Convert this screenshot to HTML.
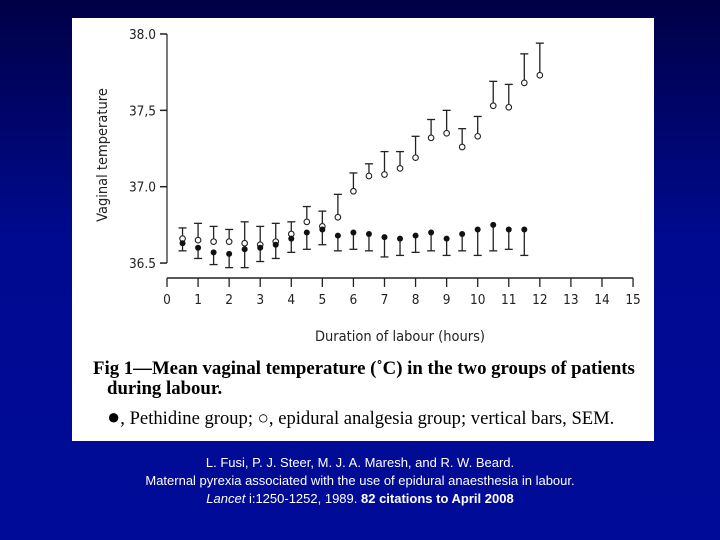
<!DOCTYPE html>
<html><head><meta charset="utf-8"><style>
body{margin:0;width:720px;height:540px;overflow:hidden;background:linear-gradient(#000046,#000a90 45%,#000b98);font-family:"Liberation Sans",sans-serif}
#panel{position:absolute;left:72px;top:18px;width:582px;height:423px;background:#fff}
#cap{position:absolute;left:0;top:358px;width:720px;color:#000;font-family:"Liberation Serif",serif}
#credit{position:absolute;left:0;top:454px;width:720px;text-align:center;color:#fff;font-size:13px;line-height:18px}
</style></head><body>
<div id="panel"></div>
<svg id="chart" width="720" height="540" style="position:absolute;left:0;top:0">
<g id="axes"></g><g id="marks"></g>
<text transform="translate(107,155) rotate(-90)" text-anchor="middle" font-size="14.5" font-family="DejaVu Sans Condensed, Liberation Sans, sans-serif" fill="#222">Vaginal temperature</text>
<text x="400" y="341" text-anchor="middle" font-size="14.5" font-family="DejaVu Sans Condensed, Liberation Sans, sans-serif" fill="#222">Duration of labour (hours)</text>
</svg>
<div id="cap">
<div style="position:absolute;left:93px;top:1px;font-weight:bold;font-size:18.8px;line-height:20px;width:600px;white-space:nowrap">Fig 1—Mean vaginal temperature (˚C) in the two groups of patients<br><span style="padding-left:14px">during labour.</span></div>
<div style="position:absolute;left:107px;top:50px;font-size:18.6px;white-space:nowrap"><span style="font-size:22px;line-height:10px">●</span>, Pethidine group; ○, epidural analgesia group; vertical bars, SEM.</div>
</div>
<div id="credit">L. Fusi, P. J. Steer, M. J. A. Maresh, and R. W. Beard.<br>Maternal pyrexia associated with the use of epidural anaesthesia in labour.<br><i>Lancet</i> i:1250-1252, 1989. <b>82 citations to April 2008</b></div>
<script>
const hours=[0.5,1,1.5,2,2.5,3,3.5,4,4.5,5,5.5,6,6.5,7,7.5,8,8.5,9,9.5,10,10.5,11,11.5,12];
const epiMean=[36.66,36.65,36.64,36.64,36.63,36.62,36.64,36.69,36.77,36.74,36.80,36.97,37.07,37.08,37.12,37.19,37.32,37.35,37.26,37.33,37.53,37.52,37.68,37.73];
const epiUpper=[36.73,36.76,36.74,36.72,36.77,36.74,36.76,36.77,36.87,36.84,36.95,37.09,37.15,37.23,37.23,37.33,37.44,37.50,37.38,37.46,37.69,37.67,37.87,37.94];
const pethMean=[36.63,36.60,36.57,36.56,36.59,36.60,36.62,36.66,36.70,36.72,36.68,36.70,36.69,36.67,36.66,36.68,36.70,36.66,36.69,36.72,36.75,36.72,36.72];
const pethLower=[36.58,36.53,36.49,36.47,36.47,36.51,36.53,36.57,36.59,36.62,36.58,36.59,36.58,36.54,36.55,36.57,36.58,36.55,36.58,36.55,36.58,36.59,36.55];
const yTicks=["38.0","37.5","37.0","36.5"];
const xTicks=[0,1,2,3,4,5,6,7,8,9,10,11,12,13,14,15];
const X=h=>167+h*31.07, Y=v=>34+(38-v)*152.7;
const NS="http://www.w3.org/2000/svg";
function mk(p,t,a){const e=document.createElementNS(NS,t);for(const k in a)e.setAttribute(k,a[k]);p.appendChild(e);return e;}
const ax=document.getElementById('axes'),mg=document.getElementById('marks');
let l=mk(ax,'line',{x1:167,y1:Y(38),x2:167,y2:Y(36.5),stroke:'#222','stroke-width':1.2});


yTicks.forEach(t=>{const y=Y(+t);mk(ax,'line',{x1:160,y1:y,x2:167,y2:y,stroke:'#222','stroke-width':1.5});
const tx=mk(ax,'text',{x:156,y:y+5,'text-anchor':'end','font-size':13.5,fill:'#222','font-family':'DejaVu Sans Condensed, Liberation Sans, sans-serif'});tx.textContent=t.replace('37.5','37,5');

});
l=mk(ax,'line',{x1:X(0),y1:278,x2:X(15),y2:278,stroke:'#222','stroke-width':1.5});


xTicks.forEach(t=>{const x=X(t);mk(ax,'line',{x1:x,y1:278,x2:x,y2:287,stroke:'#222','stroke-width':1.3});
const tx=mk(ax,'text',{x:x,y:304,'text-anchor':'middle','font-size':13.5,fill:'#222','font-family':'DejaVu Sans Condensed, Liberation Sans, sans-serif'});tx.textContent=t;

});
hours.forEach((h,i)=>{const x=X(h);
mk(mg,'line',{x1:x,y1:Y(epiMean[i])-3,x2:x,y2:Y(epiUpper[i]),stroke:'#222','stroke-width':1.3});
mk(mg,'line',{x1:x-4,y1:Y(epiUpper[i]),x2:x+4,y2:Y(epiUpper[i]),stroke:'#222','stroke-width':1.3});
const c=mk(mg,'circle',{cx:x,cy:Y(epiMean[i]),r:2.8,fill:'#fff',stroke:'#222','stroke-width':1.1});

});
pethMean.forEach((v,i)=>{const x=X(hours[i]);
mk(mg,'line',{x1:x,y1:Y(v),x2:x,y2:Y(pethLower[i]),stroke:'#222','stroke-width':1.3});
mk(mg,'line',{x1:x-4,y1:Y(pethLower[i]),x2:x+4,y2:Y(pethLower[i]),stroke:'#222','stroke-width':1.3});
const c=mk(mg,'circle',{cx:x,cy:Y(v),r:3,fill:'#111'});

});
</script>
</body></html>
